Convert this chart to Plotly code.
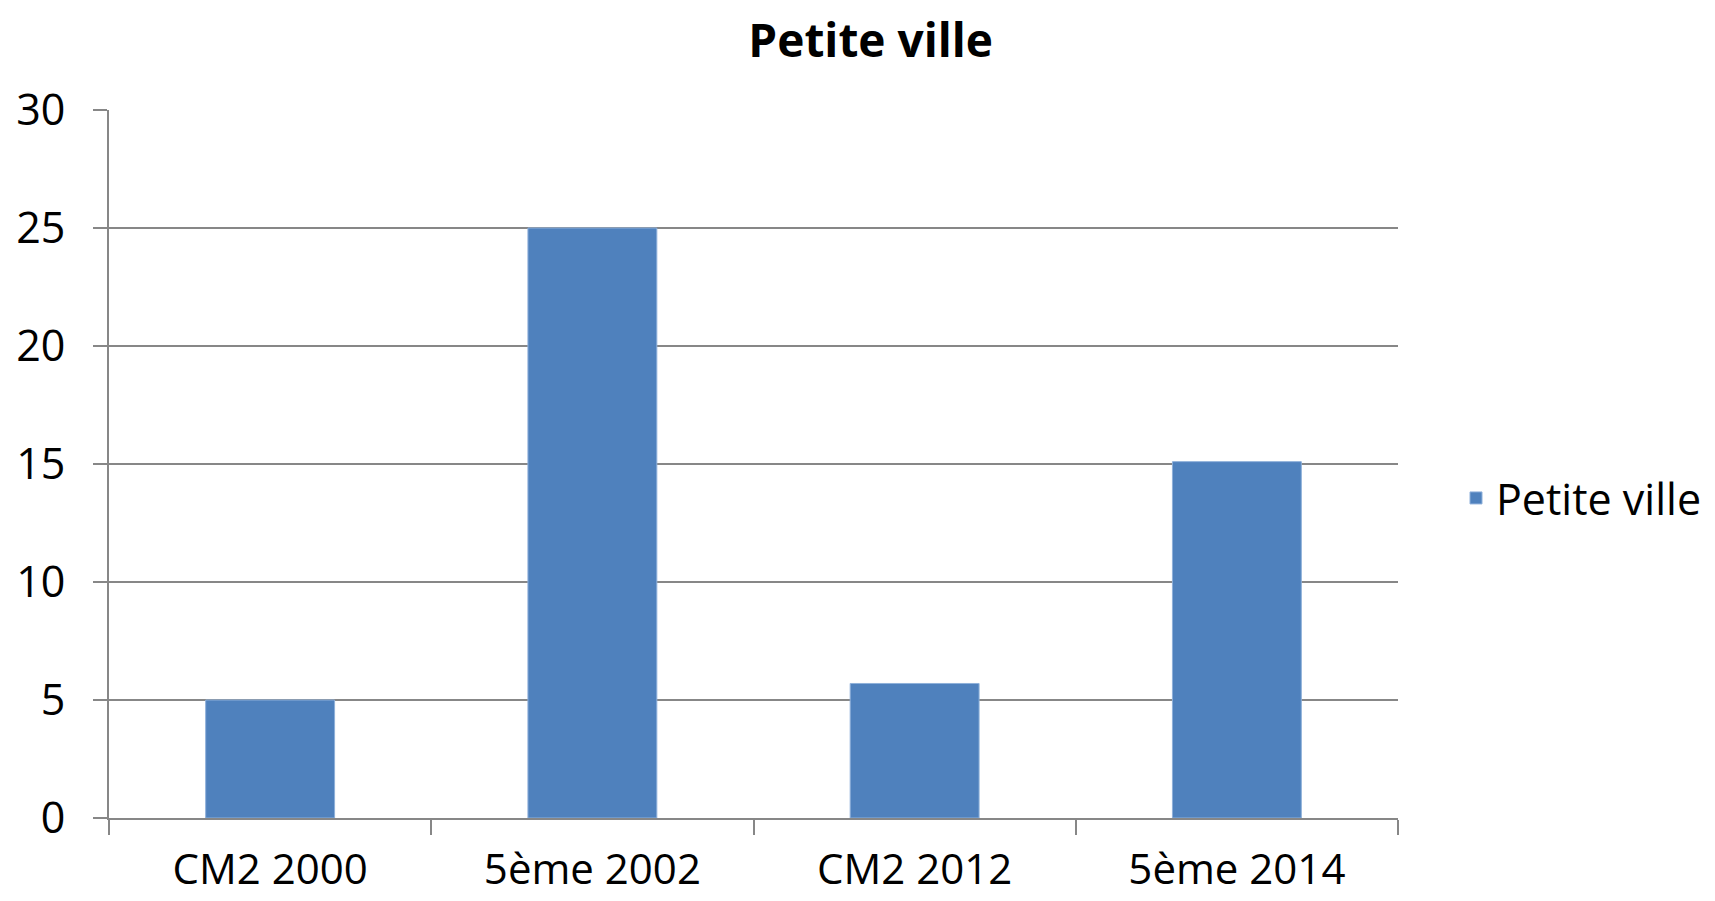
import plotly.graph_objects as go

# data
categories = ['CM2 2000', '5ème 2002', 'CM2 2012', '5ème 2014']
values = [5, 25, 5.7, 15.1]
series_name = 'Petite ville'
y_ticks = [0, 5, 10, 15, 20, 25, 30]

barColor = '#4F81BD'
gridColor = '#878787'
fontFamily = 'Open Sans, Liberation Sans, sans-serif'

fig = go.Figure()
fig.add_trace(go.Bar(x=categories, y=values, name=series_name,
                     marker=dict(color=barColor, line=dict(color='#8EB0DA', width=1)),
                     showlegend=True))

fig.update_layout(
    width=1715, height=901,
    paper_bgcolor='white', plot_bgcolor='white',
    margin=dict(l=101, r=325, t=102, b=91),
    bargap=0.6,
    title=dict(text='<b>Petite ville</b>', x=0.503, xanchor='center', y=0.963, yanchor='middle',
               font=dict(family=fontFamily, size=46, color='black')),
    font=dict(family=fontFamily, size=43, color='black'),
    legend=dict(x=1.045, xanchor='left', y=0.452, yanchor='middle',
                font=dict(family=fontFamily, size=43, color='black'),
                bgcolor='rgba(0,0,0,0)'),
)

# category labels sit close to the bottom edge, as in the original
fig.update_xaxes(showline=True, linecolor=gridColor, linewidth=2, automargin=False,
                 ticks='outside', tickson='boundaries', ticklen=15, tickwidth=2, tickcolor=gridColor,
                 ticklabelstandoff=14, tickfont=dict(size=42), showgrid=False)
fig.update_yaxes(range=[0, 30], tickvals=y_ticks, showline=True, linecolor=gridColor, linewidth=2,
                 automargin=False, ticks='outside', ticklen=14, tickwidth=2, tickcolor=gridColor,
                 showgrid=True, gridcolor=gridColor, gridwidth=2, zeroline=False,
                 ticklabelstandoff=19, tickfont=dict(size=43))

fig.write_html("out.html")
